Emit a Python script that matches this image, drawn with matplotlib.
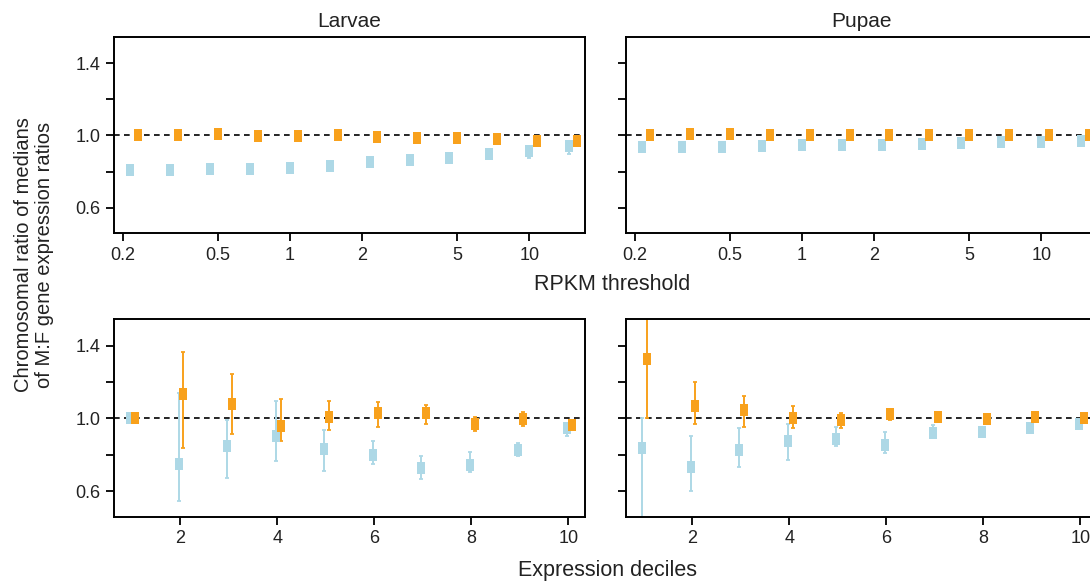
import matplotlib.pyplot as plt
import numpy as np

plt.rcParams['font.family'] = ['Liberation Sans', 'DejaVu Sans']

# x values
rpkm_thresholds = [0.215, 0.316, 0.464, 0.681, 1.0, 1.468, 2.154, 3.162, 4.642, 6.813, 10.0, 14.68]
rpkm_ticks = [0.2, 0.5, 1, 2, 5, 10]
rpkm_tick_labels = ['0.2', '0.5', '1', '2', '5', '10']
deciles = [1, 2, 3, 4, 5, 6, 7, 8, 9, 10]
decile_ticks = [2, 4, 6, 8, 10]
y_ticks = [0.6, 0.8, 1.0, 1.2, 1.4]
y_tick_labels = ['0.6', '', '1.0', '', '1.4']

# Larvae, RPKM threshold
larvae_thr_blue = [0.809, 0.811, 0.813, 0.817, 0.822, 0.833, 0.853, 0.866, 0.877, 0.896, 0.915, 0.941]
larvae_thr_blue_lo = [0.798, 0.800, 0.802, 0.806, 0.811, 0.821, 0.841, 0.853, 0.862, 0.878, 0.874, 0.897]
larvae_thr_blue_hi = [0.820, 0.822, 0.824, 0.828, 0.833, 0.845, 0.865, 0.879, 0.892, 0.914, 0.930, 0.958]
larvae_thr_orange = [1.002, 1.005, 1.007, 0.998, 0.998, 1.002, 0.992, 0.987, 0.984, 0.981, 0.969, 0.972]
larvae_thr_orange_lo = [0.991, 0.994, 0.996, 0.987, 0.987, 0.991, 0.980, 0.975, 0.972, 0.968, 0.955, 0.958]
larvae_thr_orange_hi = [1.013, 1.016, 1.018, 1.009, 1.009, 1.013, 1.004, 0.999, 0.996, 0.994, 0.983, 0.986]

# Pupae, RPKM threshold
pupae_thr_blue = [0.934, 0.936, 0.936, 0.941, 0.945, 0.949, 0.949, 0.951, 0.958, 0.962, 0.965, 0.969]
pupae_thr_blue_lo = [0.923, 0.925, 0.925, 0.930, 0.934, 0.938, 0.938, 0.940, 0.946, 0.950, 0.953, 0.956]
pupae_thr_blue_hi = [0.945, 0.947, 0.947, 0.952, 0.956, 0.960, 0.960, 0.962, 0.970, 0.974, 0.977, 0.982]
pupae_thr_orange = [1.005, 1.007, 1.007, 1.005, 1.005, 1.004, 1.004, 1.002, 1.004, 1.004, 1.000, 1.002]
pupae_thr_orange_lo = [0.994, 0.996, 0.996, 0.994, 0.994, 0.993, 0.993, 0.991, 0.993, 0.993, 0.989, 0.991]
pupae_thr_orange_hi = [1.016, 1.018, 1.018, 1.016, 1.016, 1.015, 1.015, 1.013, 1.015, 1.015, 1.011, 1.013]

# Larvae, expression deciles
larvae_dec_blue = [1.000, 0.747, 0.849, 0.903, 0.833, 0.800, 0.728, 0.743, 0.826, 0.949]
larvae_dec_blue_lo = [0.992, 0.545, 0.673, 0.765, 0.712, 0.748, 0.666, 0.704, 0.792, 0.903]
larvae_dec_blue_hi = [1.008, 1.141, 0.991, 1.095, 0.934, 0.877, 0.792, 0.815, 0.866, 0.972]
larvae_dec_orange = [1.000, 1.134, 1.081, 0.960, 1.006, 1.028, 1.028, 0.971, 0.996, 0.963]
larvae_dec_orange_lo = [0.992, 0.837, 0.914, 0.875, 0.938, 0.954, 0.967, 0.932, 0.960, 0.936]
larvae_dec_orange_hi = [1.008, 1.367, 1.242, 1.105, 1.094, 1.088, 1.073, 1.006, 1.035, 0.994]

# Pupae, expression deciles
pupae_dec_blue = [0.835, 0.734, 0.824, 0.875, 0.886, 0.853, 0.921, 0.923, 0.949, 0.971]
pupae_dec_blue_lo = [0.400, 0.603, 0.732, 0.769, 0.848, 0.811, 0.890, 0.910, 0.938, 0.945]
pupae_dec_blue_hi = [1.000, 0.903, 0.947, 0.972, 0.954, 0.928, 0.963, 0.936, 0.960, 0.985]
pupae_dec_orange = [1.325, 1.068, 1.046, 1.004, 0.991, 1.024, 1.006, 0.996, 1.009, 1.000]
pupae_dec_orange_lo = [1.000, 0.967, 0.952, 0.950, 0.950, 0.990, 0.994, 0.984, 0.997, 0.988]
pupae_dec_orange_hi = [1.650, 1.200, 1.121, 1.068, 1.031, 1.050, 1.018, 1.008, 1.021, 1.012]

BLUE = '#ADD8E6'
ORANGE = '#F8A11C'
TEXT = '#222222'
BOX = [(-0.62, -1), (0.62, -1), (0.62, 1), (-0.62, 1), (-0.62, -1)]


def draw_series(ax, x, mid, lo, hi, color):
    mid = np.array(mid)
    yerr = [mid - np.array(lo), np.array(hi) - mid]
    ax.errorbar(x, mid, yerr=yerr, fmt='none', ecolor=color, elinewidth=1.4,
                capsize=1.6, capthick=1.3, zorder=2)
    ax.plot(x, mid, linestyle='none', marker=BOX, markersize=8.6,
            markerfacecolor=color, markeredgewidth=0, zorder=3)


def style_axes(ax, show_ylabels):
    ax.set_ylim(0.46, 1.545)
    ax.set_yticks(y_ticks)
    if show_ylabels:
        ax.set_yticklabels(y_tick_labels)
    else:
        ax.set_yticklabels([])
    ax.axhline(1.0, color='black', linewidth=1.2, dashes=(3.4, 2.6), zorder=1)
    for s in ax.spines.values():
        s.set_linewidth(1.4)
    ax.tick_params(direction='out', length=5.8, width=1.3, labelsize=13,
                   labelcolor=TEXT, pad=4)


fig = plt.figure(figsize=(10.9, 5.81), dpi=100)

top_axes = [fig.add_axes([0.1046, 0.599, 0.4321, 0.3373]),
            fig.add_axes([0.5743, 0.599, 0.4321, 0.3373])]
bottom_axes = [fig.add_axes([0.1046, 0.1107, 0.4321, 0.3397]),
               fig.add_axes([0.5743, 0.1107, 0.4321, 0.3397])]

top_data = [
    (larvae_thr_blue, larvae_thr_blue_lo, larvae_thr_blue_hi,
     larvae_thr_orange, larvae_thr_orange_lo, larvae_thr_orange_hi),
    (pupae_thr_blue, pupae_thr_blue_lo, pupae_thr_blue_hi,
     pupae_thr_orange, pupae_thr_orange_lo, pupae_thr_orange_hi),
]
bottom_data = [
    (larvae_dec_blue, larvae_dec_blue_lo, larvae_dec_blue_hi,
     larvae_dec_orange, larvae_dec_orange_lo, larvae_dec_orange_hi),
    (pupae_dec_blue, pupae_dec_blue_lo, pupae_dec_blue_hi,
     pupae_dec_orange, pupae_dec_orange_lo, pupae_dec_orange_hi),
]

thr = np.array(rpkm_thresholds)
for i, ax in enumerate(top_axes):
    b, blo, bhi, o, olo, ohi = top_data[i]
    ax.set_xscale('log')
    draw_series(ax, thr, b, blo, bhi, BLUE)
    draw_series(ax, thr * 1.077, o, olo, ohi, ORANGE)
    ax.set_xlim(0.184, 17.1)
    ax.set_xticks(rpkm_ticks)
    ax.set_xticklabels(rpkm_tick_labels)
    ax.set_xticks([], minor=True)
    style_axes(ax, i == 0)

dec = np.array(deciles)
for i, ax in enumerate(bottom_axes):
    b, blo, bhi, o, olo, ohi = bottom_data[i]
    draw_series(ax, dec - 0.03, b, blo, bhi, BLUE)
    draw_series(ax, dec + 0.07, o, olo, ohi, ORANGE)
    ax.set_xlim(0.64, 10.34)
    ax.set_xticks(decile_ticks)
    style_axes(ax, i == 0)

top_axes[0].set_title('Larvae', fontsize=15, color=TEXT, pad=7)
top_axes[1].set_title('Pupae', fontsize=15, color=TEXT, pad=7)

fig.text(612 / 1090, 1 - 290 / 581, 'RPKM threshold', ha='center', va='baseline',
         fontsize=15.5, color=TEXT)
fig.text(607.5 / 1090, 1 - 576 / 581, 'Expression deciles', ha='center', va='baseline',
         fontsize=15.5, color=TEXT)
fig.text(34 / 1090, 1 - 255 / 581, 'Chromosomal ratio of medians\nof M:F gene expression ratios',
         rotation=90, ha='center', va='center', multialignment='center',
         fontsize=14.5, color=TEXT, linespacing=1.15)

fig.savefig('out.png', dpi=100)
